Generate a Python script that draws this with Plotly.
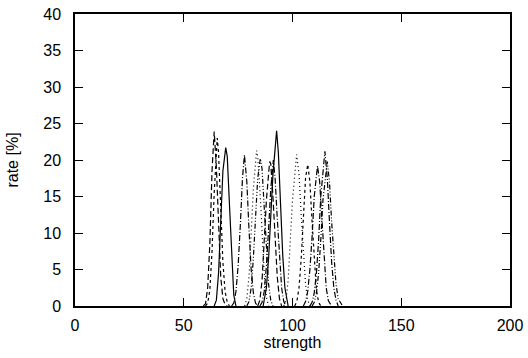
import plotly.graph_objects as go

# ---- data ----
strength_1 = [59, 60, 61, 62, 63, 64, 65, 66, 67, 68, 69, 70]
rate_1 = [0, 0.3, 2.5, 8.5, 18.5, 23.9, 19.0, 10.5, 4.0, 1.0, 0.2, 0]

strength_2 = [60, 61, 62, 63, 64, 65.4, 66, 67, 68, 69, 70, 71]
rate_2 = [0, 0.4, 2.2, 7.5, 15.5, 23.0, 21.0, 13.0, 6.0, 2.0, 0.5, 0]

strength_3 = [64, 65, 66, 67, 68, 69.3, 70, 71, 72, 73, 74]
rate_3 = [0, 0.8, 4.5, 11.5, 18.5, 21.7, 20.5, 14.0, 6.5, 1.5, 0]

strength_4 = [72, 73, 74, 75, 76, 77, 77.9, 79, 80, 81, 82, 83, 84]
rate_4 = [0, 0.4, 2.0, 5.5, 11.0, 17.5, 20.7, 17.0, 10.5, 5.0, 1.8, 0.4, 0]

strength_5 = [78, 79, 80, 81, 82, 83.5, 84, 85, 86, 87, 88, 89]
rate_5 = [0, 1.0, 4.0, 9.5, 16.0, 21.3, 20.5, 16.0, 10.0, 4.5, 1.2, 0]

strength_6 = [79, 80, 81, 82, 83, 84, 85.2, 86, 87, 88, 89, 90, 91]
rate_6 = [0, 0.6, 2.5, 6.5, 12.0, 17.5, 20.2, 18.8, 13.5, 7.5, 3.0, 0.8, 0]

strength_7 = [84, 85, 86, 87, 88, 89.5, 90, 91, 92, 93, 94, 95]
rate_7 = [0, 0.8, 3.5, 8.5, 14.5, 19.8, 19.5, 15.0, 9.0, 4.0, 1.0, 0]

strength_8 = [85, 86, 87, 88, 89, 90, 91.2, 92, 93, 94, 95, 96, 97]
rate_8 = [0, 0.5, 2.0, 5.5, 10.5, 16.0, 20.0, 17.5, 12.0, 6.5, 2.5, 0.6, 0]

strength_9 = [86.5, 88, 89, 90, 91, 92.7, 93.5, 94.5, 95.5, 96.5, 98]
rate_9 = [0, 2.5, 6.5, 12.0, 18.0, 24.0, 21.0, 14.0, 7.0, 2.5, 0]

strength_10 = [96, 97, 98, 99, 100, 101.9, 103, 104, 105, 106, 107, 108]
rate_10 = [0, 0.8, 3.5, 8.5, 14.5, 20.75, 18.0, 12.5, 7.0, 3.0, 0.8, 0]

strength_11 = [101, 102, 103, 104, 105, 106, 107, 108, 109, 110, 111, 112, 113]
rate_11 = [0, 0.6, 2.5, 6.5, 12.0, 17.5, 19.4, 17.0, 11.5, 6.0, 2.2, 0.5, 0]

strength_12 = [105, 106, 107, 108, 109, 110, 111.5, 112.5, 113.5, 114.5, 115.5, 116.5, 118]
rate_12 = [0, 0.6, 2.0, 5.0, 9.5, 15.0, 19.2, 17.0, 12.0, 6.5, 2.5, 0.7, 0]

strength_13 = [108, 109, 110, 111, 112, 113, 114.9, 116, 117, 118, 119, 120, 121]
rate_13 = [0, 0.5, 1.8, 4.5, 9.0, 15.0, 21.2, 17.5, 11.5, 6.0, 2.5, 0.8, 0]

strength_14 = [109, 110, 111, 112, 113, 114, 116, 117, 118, 119, 120, 121, 123]
rate_14 = [0, 0.5, 1.8, 4.5, 9.0, 14.5, 19.8, 17.0, 11.5, 6.5, 3.0, 1.0, 0]

series_x = [strength_1, strength_2, strength_3, strength_4, strength_5, strength_6, strength_7,
            strength_8, strength_9, strength_10, strength_11, strength_12, strength_13, strength_14]
series_y = [rate_1, rate_2, rate_3, rate_4, rate_5, rate_6, rate_7,
            rate_8, rate_9, rate_10, rate_11, rate_12, rate_13, rate_14]

x_ticks = [0, 50, 100, 150, 200]
y_ticks = [0, 5, 10, 15, 20, 25, 30, 35, 40]

# ---- styles ----
DASH = "6px,3px"
SHORT = "3px,3px"
DOT = "1px,3px"
DASHDOT = "6px,2px,1px,2px"
DASHDOTDOT = "5px,2px,1px,2px,1px,2px"
styles = [DASH, SHORT, "solid", DASHDOT, DOT, DASHDOTDOT, DASH,
          DASHDOT, "solid", DOT, SHORT, DASHDOT, DASHDOT, DASHDOTDOT]

fig = go.Figure()
for xs, ys, dash in zip(series_x, series_y, styles):
    fig.add_trace(go.Scatter(x=xs, y=ys, mode="lines",
                             line=dict(color="black", width=1.2, dash=dash),
                             showlegend=False))

font = dict(family="Liberation Sans, Arial, sans-serif", size=16, color="black")
axis_common = dict(showgrid=False, zeroline=False, showline=True, linecolor="black",
                   linewidth=1.5, mirror="ticks", ticks="inside", ticklen=8,
                   tickcolor="black", tickwidth=1, tickfont=font, automargin=False)

fig.update_layout(
    width=528, height=358,
    margin=dict(l=75, r=18, t=14, b=52, autoexpand=False),
    plot_bgcolor="white", paper_bgcolor="white",
    font=font,
    xaxis=dict(range=[0, 200], tickvals=x_ticks, ticklabelstandoff=4,
               title=dict(text="strength", font=font, standoff=0), **axis_common),
    yaxis=dict(range=[0, 40], tickvals=y_ticks, ticklabelstandoff=9,
               title=dict(text="rate [%]", font=font, standoff=21), **axis_common),
)

fig.write_html("out.html")
